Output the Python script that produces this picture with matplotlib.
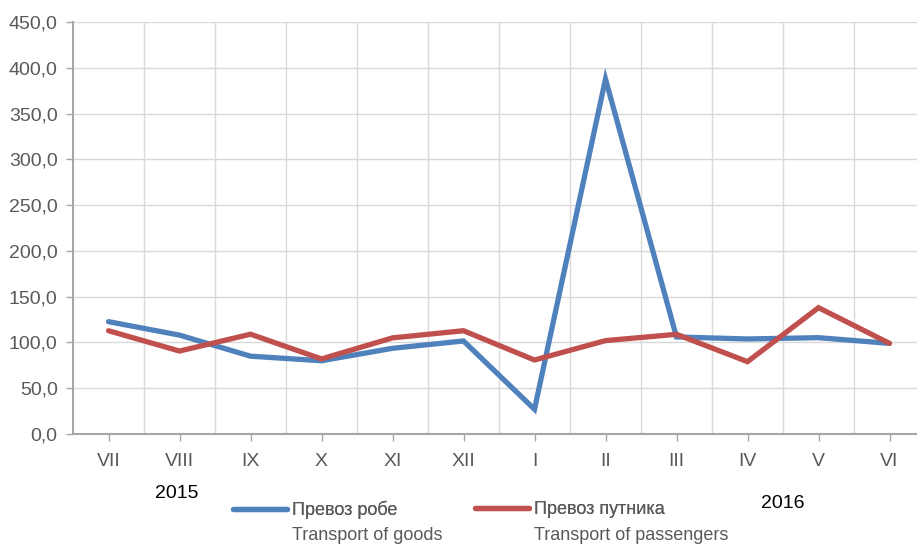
import matplotlib
matplotlib.use("Agg")
import matplotlib.pyplot as plt
from matplotlib.ticker import FuncFormatter, MultipleLocator, FixedLocator
from matplotlib.lines import Line2D

months = ["VII", "VIII", "IX", "X", "XI", "XII", "I", "II", "III", "IV", "V", "VI"]
goods = [122.7, 108.0, 85.0, 80.0, 93.6, 101.6, 27.0, 387.7, 106.0, 103.8, 105.2, 99.0]
passengers = [112.8, 90.6, 109.0, 82.0, 105.0, 112.8, 80.8, 102.0, 108.9, 79.0, 138.0, 99.0]
label_goods = ["Превоз робе", "Transport of goods"]
label_pass = ["Превоз путника", "Transport of passengers"]
year_labels = ["2015", "2016"]

plt.rcParams['font.family'] = ['Liberation Sans', 'DejaVu Sans']
FS = 14
LFS = 13

fig = plt.figure(figsize=(9.17, 5.48), dpi=100)
ax = fig.add_axes([73/917, 1-434/548, (925-73)/917, (434-22)/548])

blue = "#4F81BD"
red = "#C0504D"
x = list(range(len(months)))
ax.plot(x, goods, color=blue, lw=3.8, solid_capstyle='round', solid_joinstyle='miter', zorder=3)
ax.plot(x, passengers, color=red, lw=3.8, solid_capstyle='round', solid_joinstyle='miter', zorder=4)

ax.set_xlim(-0.5, len(months)-0.5)
ax.set_ylim(0, 450)
ax.yaxis.set_major_locator(MultipleLocator(50))
ax.yaxis.set_major_formatter(FuncFormatter(lambda v, p: f"{v:.1f}".replace('.', ',')))
ax.set_xticks(x)
ax.set_xticklabels(months)
ax.xaxis.set_minor_locator(FixedLocator([i + 0.5 for i in x]))

ax.grid(axis='y', which='major', color='#D9D9D9', lw=1)
ax.grid(axis='x', which='minor', color='#D9D9D9', lw=1)
ax.set_axisbelow(True)
for s in ['top', 'right']:
    ax.spines[s].set_visible(False)
for s in ['left', 'bottom']:
    ax.spines[s].set_color('#A6A6A6')
    ax.spines[s].set_linewidth(1.5)
ax.tick_params(axis='both', which='major', direction='out', length=5, color='#A6A6A6',
               labelsize=FS, labelcolor='#595959', width=1)
ax.tick_params(axis='x', which='minor', length=0)
ax.tick_params(axis='x', pad=9)
ax.tick_params(axis='y', pad=6)

fig.text(177/917, 1-493/548, year_labels[0], ha='center', va='center', fontsize=FS, color='black')
fig.text(783/917, 1-503/548, year_labels[1], ha='center', va='center', fontsize=FS, color='black')

entries = [(blue, label_goods, 233), (red, label_pass, 475)]
for color, lab, x0 in entries:
    h = Line2D([], [], color=color, lw=3.8, solid_capstyle='round')
    leg = fig.legend([h], [lab[0]], frameon=False, loc='center left',
                     bbox_to_anchor=(x0/917, 1-510/548), fontsize=LFS,
                     handlelength=54/18.06, handletextpad=0.25, labelcolor='#595959',
                     borderaxespad=0, borderpad=0)
    fig.add_artist(leg)
    fig.text((x0 + 59)/917, 1-536/548, lab[1], ha='left', va='center', fontsize=LFS, color='#595959')

fig.savefig("out.png", dpi=100)
